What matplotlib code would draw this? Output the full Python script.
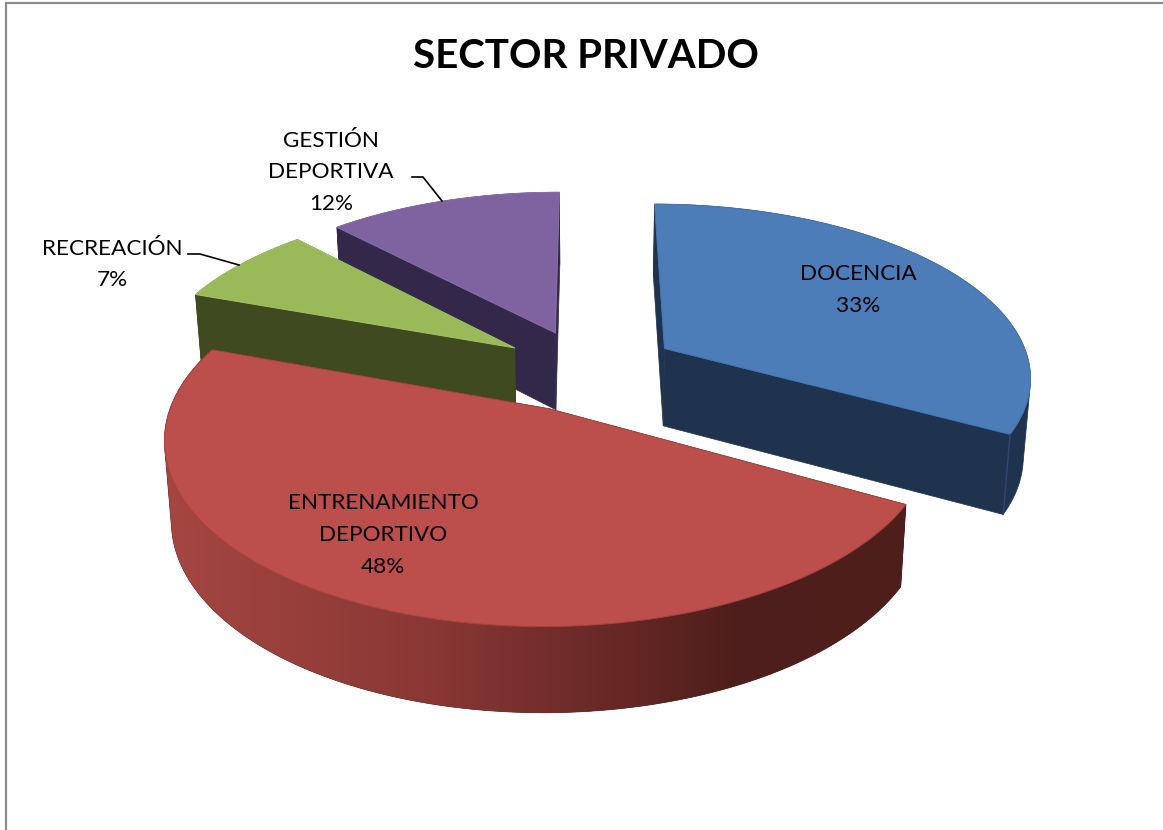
#!/usr/bin/env python3
import numpy as np
import matplotlib
matplotlib.use('Agg')
import matplotlib.pyplot as plt
from matplotlib.colors import LinearSegmentedColormap
from matplotlib.patches import Polygon

plt.rcParams['font.family'] = ['Lato', 'DejaVu Sans']

title = "SECTOR PRIVADO"
categories = ["DOCENCIA", "ENTRENAMIENTO\nDEPORTIVO", "RECREACIÓN", "GESTIÓN\nDEPORTIVA"]
shares = [33.0, 47.5, 7.4, 12.1]
share_labels = ["33%", "48%", "7%", "12%"]
top_colors = ['#4c7db9', '#bc4e4b', '#9aba59', '#7f62a0']
wall_colors = ['#1f334e', '#4e1f1c', '#3f4a20', '#33284a']
edge_colors = ['#4676b0', '#a8443f', '#a4c268', '#8a6fab']

# 3D look: projection of the pie disc, fitted to the picture
CX, CY = 587, 370
SX, SY = 367, 172
PERSP = 0.15
EXPLODE = [0.25, 0.24, 0.24, 0.24]
DEPTH = 78
BOTTOM_SX, BOTTOM_SY = 361, 177.5


def project(x, y, bottom=False):
    w = 1 + PERSP * y
    if bottom:
        return CX + BOTTOM_SX * x / w, CY + DEPTH - BOTTOM_SY * y / w
    return CX + SX * x / w, CY - SY * y / w


def slice_outline(a0, a1, off):
    ang = np.radians(np.linspace(a0, a1, 200))
    return np.sin(ang) + off[0], np.cos(ang) + off[1]


def hull(points):
    # outer silhouette of the wall, keeps the straight tangent sides
    pts = sorted(map(tuple, points))

    def half(seq):
        out = []
        for p in seq:
            while len(out) > 1 and ((out[-1][0] - out[-2][0]) * (p[1] - out[-2][1])
                                    - (out[-1][1] - out[-2][1]) * (p[0] - out[-2][0])) <= 0:
                out.pop()
            out.append(p)
        return out[:-1]

    return np.array(half(pts) + half(pts[::-1]))


fig = plt.figure(figsize=(11.63, 8.3), dpi=100)
ax = fig.add_axes([0, 0, 1, 1])

# chart frame, only top and left show in the picture
ax.plot([6, 6, 1163], [830, 3.5, 3.5], color='#8c8c8c', lw=1.6, solid_joinstyle='miter')

red_cmap = LinearSegmentedColormap.from_list(
    'redwall', [(0, '#a54642'), (0.35, '#8a3835'), (0.62, '#652825'), (0.78, '#4d1e1b'), (1, '#4f1f1c')])

edges = np.cumsum([0] + shares) / sum(shares) * 360
slices = []
for i in range(len(shares)):
    mid = np.radians((edges[i] + edges[i + 1]) / 2)
    off = (EXPLODE[i] * np.sin(mid), EXPLODE[i] * np.cos(mid))
    slices.append((i, edges[i], edges[i + 1], off))

# painter's order: back slices first
z = 1
for i, a0, a1, off in [slices[3], slices[2], slices[0], slices[1]]:
    xs, ys = slice_outline(a0, a1, off)
    tx, ty = project(xs, ys)
    bx, by = project(xs, ys, bottom=True)
    ax0, ay0 = project(off[0], off[1])
    bx0, by0 = project(off[0], off[1], bottom=True)

    # radial walls
    for j in (0, -1):
        wall = [(ax0, ay0), (tx[j], ty[j]), (bx[j], by[j]), (bx0, by0)]
        ax.add_patch(Polygon(wall, closed=True, facecolor=wall_colors[i],
                             edgecolor=wall_colors[i], lw=0.5, zorder=z))

    # outer wall
    outer = hull(np.vstack([np.column_stack([tx, ty]), np.column_stack([bx, by])]))
    wall_patch = Polygon(outer, closed=True, facecolor=wall_colors[i],
                         edgecolor=wall_colors[i], lw=0.5, zorder=z + 1)
    ax.add_patch(wall_patch)
    if i == 1:
        # left to right shading on the red wall
        im = ax.imshow(np.linspace(0, 1, 256).reshape(1, -1), cmap=red_cmap, aspect='auto',
                       extent=(min(tx.min(), bx.min()), max(tx.max(), bx.max()), 720, 340),
                       zorder=z + 1.5)
        im.set_clip_path(wall_patch)

    # top face
    top = np.vstack([[ax0, ay0], np.column_stack([tx, ty])])
    ax.add_patch(Polygon(top, closed=True, facecolor=top_colors[i],
                         edgecolor=edge_colors[i], lw=0.7, joinstyle='round', zorder=z + 2))
    z += 3

# blue corner highlight
i, a0, a1, off = slices[0]
xs, ys = slice_outline(a0, a1, off)
tx, ty = project(xs, ys)
bx, by = project(xs, ys, bottom=True)
ax.plot([tx[-1], bx[-1]], [ty[-1], by[-1]], color='#2c4a73', lw=1, zorder=9)

ax.set_xlim(0, 1163)
ax.set_ylim(830, 0)
ax.axis('off')

ax.text(585.5, 57, title, fontsize=29, fontweight='bold', ha='center', va='center',
        color='black', zorder=20)

label_pos = [(858, 290), (383, 535), (112, 264.5), (331, 172.5)]
for cat, val, (lx, ly) in zip(categories, share_labels, label_pos):
    ax.text(lx, ly, f"{cat}\n{val}", fontsize=16.2, ha='center', va='center',
            color='black', linespacing=1.74, zorder=20)

# leader lines for the two small slices
ax.plot([188, 200, 239], [254, 254, 265], color='black', lw=1.2, zorder=20)
ax.plot([412, 423, 442], [177, 177, 201], color='black', lw=1.2, zorder=20)

plt.savefig('out.png', dpi=100)
plt.close()
